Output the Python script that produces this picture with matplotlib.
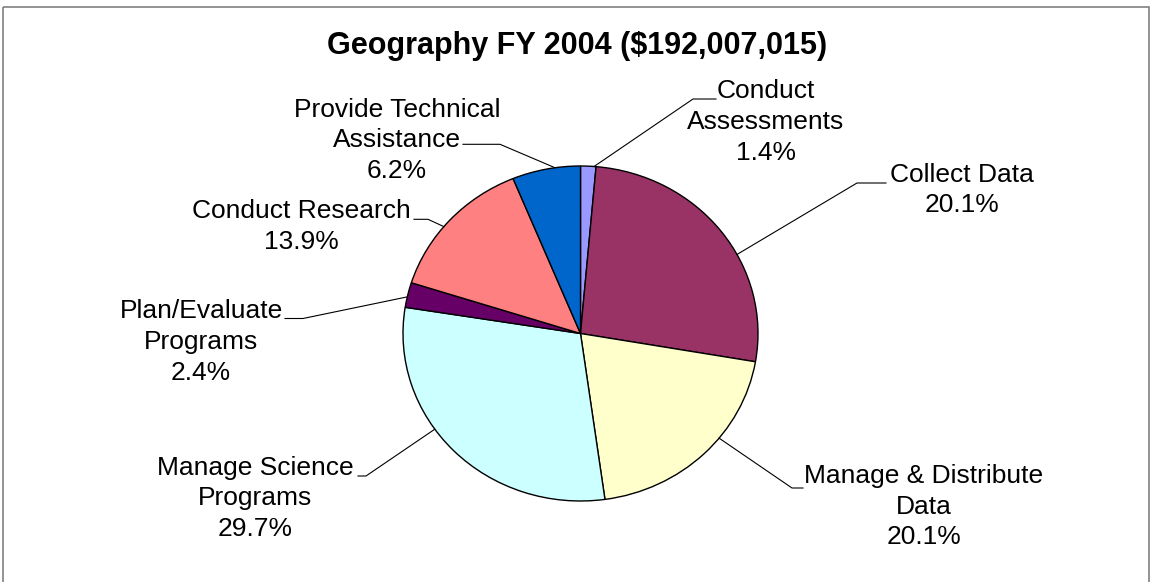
import numpy as np
import matplotlib
matplotlib.use("Agg")
import matplotlib.pyplot as plt
from matplotlib.patches import Rectangle

# data
categories = ["Conduct\nAssessments", "Collect Data", "Manage & Distribute\nData",
              "Manage Science\nPrograms", "Plan/Evaluate\nPrograms",
              "Conduct Research", "Provide Technical\nAssistance"]
values = [1.4, 26.3, 20.1, 29.7, 2.4, 13.9, 6.2]          # slice sizes as drawn
pct_labels = ["1.4%", "20.1%", "20.1%", "29.7%", "2.4%", "13.9%", "6.2%"]  # as printed
colors = ["#9999FF", "#993366", "#FFFFCC", "#CCFFFF", "#660066", "#FF8080", "#0066CC"]

title = "Geography FY 2004 ($192,007,015)"

# label layout in pixels (centre x, first baseline y), leader elbow and text end
label_pos = [(766, 98.5), (962, 182), (924, 483.5), (255, 475),
             (201, 318.5), (301, 218.5), (397, 116.7)]
leader_end = [(716, 99), (886, 183), (803, 488), (358, 476),
              (285, 318.5), (414, 219.3), (463, 144.3)]
leader_elbow = [(693, 99), (857, 183), (792, 488), (366, 476),
                (303, 318.5), (428, 219.3), (500, 144.3)]
anchor_frac = [0.13, 0.40, 0.60, 0.41, 0.58, 0.56, 0.37]

W, H = 1153, 582
plt.rcParams["font.family"] = ["Liberation Sans", "DejaVu Sans"]
fig = plt.figure(figsize=(W / 100, H / 100), dpi=100)

# pie axes (slightly wider than tall, like the original)
cx, cy, rx, ry = 580.5, 333.5, 177.5, 167.5
ax = fig.add_axes([(cx - rx) / W, (H - cy - ry) / H, 2 * rx / W, 2 * ry / H])
wedges, _ = ax.pie(values, colors=colors, startangle=90, counterclock=False,
                   wedgeprops=dict(edgecolor="black", linewidth=1.0))
ax.set_aspect("auto")
ax.set_xlim(-1, 1)
ax.set_ylim(-1, 1)
ax.axis("off")

# overlay in pixel coordinates for title, labels and leaders
lay = fig.add_axes([0, 0, 1, 1], zorder=3)
lay.set_xlim(0, W)
lay.set_ylim(H, 0)
lay.axis("off")

lay.add_patch(Rectangle((3, 7), 1146, 650, fill=False, edgecolor="#808080",
                        linewidth=1.2, clip_on=False))
lay.text(577, 54, title, ha="center", va="baseline", fontsize=22, fontweight="bold")

to_lay = lay.transData.inverted()
for i, w in enumerate(wedges):
    ang = np.deg2rad(w.theta1 + anchor_frac[i] * (w.theta2 - w.theta1))
    px, py = to_lay.transform(ax.transData.transform((np.cos(ang), np.sin(ang))))
    ex, ey = leader_end[i]
    bx, by = leader_elbow[i]
    lay.plot([px, bx, ex], [py, by, ey], color="black", linewidth=0.8)

    lines = categories[i].split("\n") + [pct_labels[i]]
    x0, y0 = label_pos[i]
    for k, line in enumerate(lines):
        lay.text(x0, y0 + k * 30.5, line, ha="center", va="baseline", fontsize=19)

fig.savefig("out.png", dpi=100, facecolor="white")
